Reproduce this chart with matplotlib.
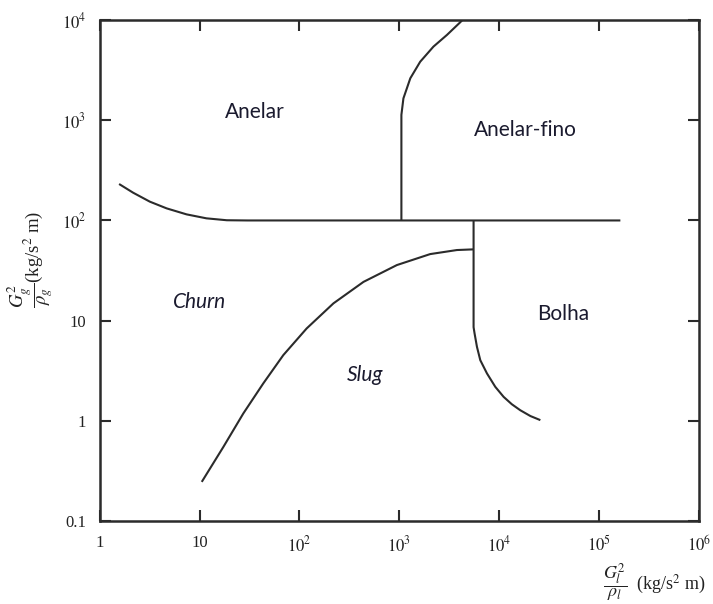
import numpy as np
import matplotlib
matplotlib.use("Agg")
import matplotlib.pyplot as plt

plt.rcParams['font.family'] = ['Liberation Serif', 'DejaVu Serif']
plt.rcParams['mathtext.fontset'] = 'stix'

# flow regime boundaries (liquid momentum flux, gas momentum flux)
annular_x = [1.56, 2.16, 3.17, 4.67, 7.4, 11.7, 18.7, 30.0, 164000.0]
annular_y = [231.0, 189.0, 154.0, 132.0, 115.0, 105.0, 100.5, 100.0, 100.0]

wispy_x = [1050.0, 1050.0, 1100.0, 1290.0, 1620.0, 2200.0, 3000.0, 4080.0, 4300.0]
wispy_y = [100.0, 1130.0, 1650.0, 2620.0, 3830.0, 5420.0, 7080.0, 9480.0, 10000.0]

slug_x = [10.5, 17.3, 27.4, 43.4, 68.9, 118.0, 219.0, 438.0, 946.0,
          2040.0, 3780.0, 5550.0]
slug_y = [0.247, 0.552, 1.19, 2.37, 4.54, 8.37, 14.9, 24.4, 35.9,
          46.2, 50.7, 51.5]

bubbly_x = [5550.0, 5550.0, 5680.0, 6000.0, 6480.0, 7560.0, 9160.0, 11100.0,
            13400.0, 16300.0, 20600.0, 25900.0]
bubbly_y = [100.0, 8.63, 7.46, 5.49, 4.04, 2.98, 2.19, 1.74,
            1.47, 1.28, 1.12, 1.02]

regions = ['Anelar', 'Anelar-fino', 'Churn', 'Slug', 'Bolha']
region_x = [36.0, 18300.0, 10.1, 455.0, 44000.0]
region_y = [1208.0, 798.0, 15.3, 2.86, 11.6]
region_italic = [False, False, True, True, False]

x_ticks = [1, 10, 1e2, 1e3, 1e4, 1e5, 1e6]
x_labels = ['1', '10', r'$10^2$', r'$10^3$', r'$10^4$', r'$10^5$', r'$10^6$']
y_ticks = [0.1, 1, 10, 1e2, 1e3, 1e4]
y_labels = ['0.1', '1', '10', r'$10^2$', r'$10^3$', r'$10^4$']

line_col = '#2b2b2b'

fig = plt.figure(figsize=(7.13, 6.04), dpi=100)
ax = fig.add_axes([0.140, 0.137, 0.840, 0.830])

for xs, ys in [(annular_x, annular_y), (wispy_x, wispy_y),
               (slug_x, slug_y), (bubbly_x, bubbly_y)]:
    ax.plot(xs, ys, color=line_col, lw=1.5, solid_capstyle='butt',
            solid_joinstyle='round')

ax.set_xscale('log')
ax.set_yscale('log')
ax.set_xlim(1, 1e6)
ax.set_ylim(0.1, 1e4)

ax.set_xticks(x_ticks)
ax.set_xticklabels(x_labels)
ax.set_yticks(y_ticks)
ax.set_yticklabels(y_labels)
ax.minorticks_off()
ax.tick_params(which='major', direction='in', length=8, width=1.5,
               color=line_col, top=True, right=True, labelsize=12,
               labelcolor='#222222')
ax.tick_params(axis='x', pad=10)
ax.tick_params(axis='y', pad=10)

for sp in ax.spines.values():
    sp.set_linewidth(1.8)
    sp.set_color(line_col)

for name, x, y, it in zip(regions, region_x, region_y, region_italic):
    ax.text(x, y, name, ha='center', va='center', fontsize=15,
            family=['Lato', 'DejaVu Sans'],
            style='italic' if it else 'normal', color='#1a1a2e')

fig.text(0.043, 0.57, r'$\dfrac{G_g^2}{\rho_g}$(kg/s$^2$ m)', rotation=90,
         ha='center', va='center', fontsize=13.5, color='#222222')
fig.text(0.918, 0.035, r'$\dfrac{G_l^2}{\rho_l}$  (kg/s$^2$ m)',
         ha='center', va='center', fontsize=13, color='#222222')

fig.savefig('out.png', dpi=100, facecolor='white')
